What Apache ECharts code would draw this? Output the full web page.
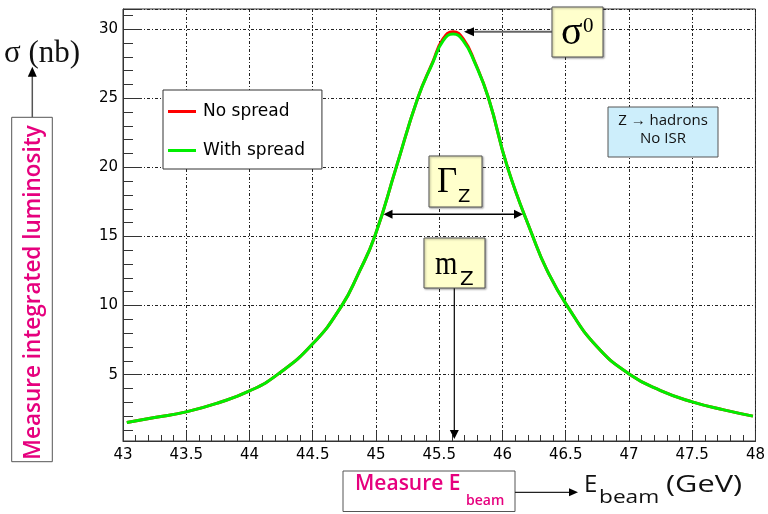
<!DOCTYPE html>
<html>
<head>
<meta charset="utf-8">
<script src="https://cdn.jsdelivr.net/npm/echarts@6/dist/echarts.min.js"></script>
<style>
html,body{margin:0;padding:0;background:#fff;}
#chart{width:768px;height:514px;}
</style>
</head>
<body>
<div id="chart"></div>
<script>
// ---- data ----
const beamEnergy = [43.03, 43.25, 43.5, 43.75, 44.0, 44.22, 44.5, 44.73, 44.86, 44.99, 45.16, 45.33, 45.45, 45.53, 45.61, 45.69, 45.78, 45.89, 46.04, 46.24, 46.35, 46.51, 46.75, 47.01, 47.25, 47.5, 47.75, 47.98];
const sigmaWithSpread = [1.54, 1.9, 2.31, 2.95, 3.82, 5.0, 7.23, 10.0, 12.3, 15.0, 20.0, 25.0, 27.6, 29.15, 29.65, 29.15, 27.6, 25.0, 20.0, 15.0, 12.6, 10.0, 7.0, 5.0, 3.85, 3.03, 2.45, 2.0];
const sigmaNoSpread = [1.54, 1.9, 2.31, 2.95, 3.82, 5.0, 7.23, 10.0, 12.3, 15.0, 20.0, 25.0, 27.65, 29.3, 29.82, 29.3, 27.65, 25.0, 20.0, 15.0, 12.6, 10.0, 7.0, 5.0, 3.85, 3.03, 2.45, 2.0];
const seriesNames = ['No spread', 'With spread'];
const xRange = [43, 48];
const xStep = 0.5;
const yRange = [0.2, 31.46];

const noSpreadData = beamEnergy.map((x, i) => [x, sigmaNoSpread[i]]);
const withSpreadData = beamEnergy.map((x, i) => [x, sigmaWithSpread[i]]);

const chart = echarts.init(document.getElementById('chart'), null, {renderer: 'canvas'});

const gridDash = [3, 2, 1, 2];
const sans = 'DejaVu Sans';
const serif = 'Liberation Serif';

function head(tipX, tipY, dir, len, half) {
  let pts;
  if (dir === 'left') pts = [[tipX, tipY], [tipX + len, tipY - half], [tipX + len, tipY + half]];
  else if (dir === 'right') pts = [[tipX, tipY], [tipX - len, tipY - half], [tipX - len, tipY + half]];
  else if (dir === 'up') pts = [[tipX, tipY], [tipX - half, tipY + len], [tipX + half, tipY + len]];
  else pts = [[tipX, tipY], [tipX - half, tipY - len], [tipX + half, tipY - len]];
  return {type: 'polygon', z: 100, shape: {points: pts}, style: {fill: '#000'}};
}
function box(x, y, w, h, fill, shadow) {
  const st = {fill: fill, stroke: '#555', lineWidth: 1};
  if (shadow) { st.shadowBlur = 2; st.shadowColor = 'rgba(0,0,0,0.35)'; st.shadowOffsetX = 1; st.shadowOffsetY = 1; }
  return {type: 'rect', z: 100, shape: {x: x, y: y, width: w, height: h}, style: st};
}
// y is the vertical middle of the em box
function txt(x, y, s, font, opts, sx) {
  const st = Object.assign({text: s, font: font, fill: '#000', align: 'left', verticalAlign: 'middle'}, opts || {});
  return {type: 'text', z: 101, x: x, y: y, scaleX: sx || 1, style: st};
}
function line(x1, y1, x2, y2, color, w) {
  return {type: 'line', z: 100, shape: {x1: x1, y1: y1, x2: x2, y2: y2}, style: {stroke: color, lineWidth: w}};
}

const magenta = '#e6007e';

const graphics = [
  // sigma0 annotation
  line(552, 31.7, 470, 31.7, '#666', 2),
  head(464, 31.7, 'left', 10, 4.5),
  box(552, 7, 51, 50, '#ffffcc', true),
  txt(561, 33.5, 'σ', '40px "' + serif + '"'),
  txt(583, 26, '0', '21px "' + serif + '"'),
  // Gamma_Z annotation
  line(390, 214.3, 516, 214.3, '#000', 1.5),
  head(383.5, 214.3, 'left', 9, 4.5),
  head(523, 214.3, 'right', 9, 4.5),
  box(429, 156, 53, 51, '#ffffcc', true),
  txt(437, 183, 'Γ', '35px "' + serif + '"'),
  txt(458, 197, 'Z', '18px "' + sans + '"'),
  // m_Z annotation
  line(454.3, 288, 454.3, 431, '#000', 1.2),
  head(454.3, 439, 'down', 9, 4.5),
  box(424, 238, 61, 50, '#ffffcc', true),
  txt(435, 265.5, 'm', '34px "' + serif + '"', null, 0.85),
  txt(460, 279.5, 'Z', '20px "' + sans + '"'),
  // info box
  box(608, 107, 110, 50, '#cdeefb', false),
  txt(663, 121, 'Z → hadrons', '15px "Open Sans"', {align: 'center', fill: '#111'}),
  txt(663, 138.5, 'No ISR', '15px "Open Sans"', {align: 'center', fill: '#111'}),
  // left side: sigma (nb) and luminosity
  txt(4, 53.5, 'σ (nb)', '31px "' + serif + '"', {fill: '#111'}),
  line(32.3, 117.3, 32.3, 76, '#555', 1.5),
  head(32.3, 66.7, 'up', 10, 4.5),
  box(11.7, 117.3, 40.6, 344.4, '#fff', false),
  {type: 'text', z: 101, x: 34, y: 292.5, rotation: Math.PI / 2,
   style: {text: 'Measure integrated luminosity', font: '600 22.5px "Open Sans"', fill: magenta, align: 'center', verticalAlign: 'middle'}},
  // bottom: measure E_beam
  box(343, 471, 172, 40.5, '#fff', false),
  txt(355, 484, 'Measure E', '600 21px "Open Sans"', {fill: magenta}),
  txt(466, 501, 'beam', '600 14px "Open Sans"', {fill: magenta}),
  line(515, 492.3, 570, 492.3, '#222', 1.2),
  head(578, 492.3, 'right', 9, 4),
  txt(584, 485.6, 'E', '24px "Open Sans"', {fill: '#111'}),
  txt(599, 498, 'beam', '18px "Open Sans"', {fill: '#111'}, 1.26),
  txt(666, 485.6, '(GeV)', '24px "Open Sans"', {fill: '#111'}, 1.28)
];

const option = {
  animation: false,
  backgroundColor: '#fff',
  grid: {left: 123, right: 10, top: 9, bottom: 73, show: true, borderColor: '#333', borderWidth: 1, backgroundColor: 'transparent'},
  legend: {
    data: seriesNames,
    orient: 'vertical',
    left: 163, top: 90,
    icon: 'rect',
    itemWidth: 28, itemHeight: 3, itemGap: 22,
    padding: [13, 17, 10, 5],
    backgroundColor: '#fff',
    borderColor: '#333', borderWidth: 1,
    textStyle: {fontFamily: sans, fontSize: 17, color: '#000', padding: [0, 0, 0, 2]},
    selectedMode: false
  },
  xAxis: {
    type: 'value', min: xRange[0], max: xRange[1], interval: xStep,
    axisLine: {show: true, lineStyle: {color: '#333', width: 1}},
    axisTick: {show: true, inside: true, length: 10, lineStyle: {color: '#333', width: 1}},
    minorTick: {show: true, splitNumber: 5, length: 6, lineStyle: {color: '#333', width: 1}},
    splitLine: {show: true, lineStyle: {color: '#222', width: 1, type: gridDash}},
    axisLabel: {show: true, margin: 7, fontFamily: sans, fontSize: 15, color: '#000',
      formatter: v => String(Math.round(v * 10) / 10)}
  },
  yAxis: {
    type: 'value', min: yRange[0], max: yRange[1], splitNumber: 6,
    axisLine: {show: true, lineStyle: {color: '#333', width: 1}},
    axisTick: {show: true, inside: true, length: 19, lineStyle: {color: '#333', width: 1}},
    minorTick: {show: true, splitNumber: 5, length: 10, lineStyle: {color: '#333', width: 1}},
    splitLine: {show: true, lineStyle: {color: '#222', width: 1, type: gridDash}},
    axisLabel: {show: true, margin: 5, fontFamily: sans, fontSize: 15, color: '#000', showMinLabel: false, showMaxLabel: false,
      formatter: v => (Math.abs(v - Math.round(v)) < 1e-6 ? String(Math.round(v)) : '')}
  },
  series: [
    {name: seriesNames[0], type: 'line', data: noSpreadData, smooth: 0.5, symbol: 'none',
     lineStyle: {color: '#ff0000', width: 3}, itemStyle: {color: '#ff0000'}, z: 2},
    {name: seriesNames[1], type: 'line', data: withSpreadData, smooth: 0.5, symbol: 'none',
     lineStyle: {color: '#00ee00', width: 3}, itemStyle: {color: '#00ee00'}, z: 3}
  ],
  graphic: {elements: graphics}
};
chart.setOption(option);
</script>
</body>
</html>
